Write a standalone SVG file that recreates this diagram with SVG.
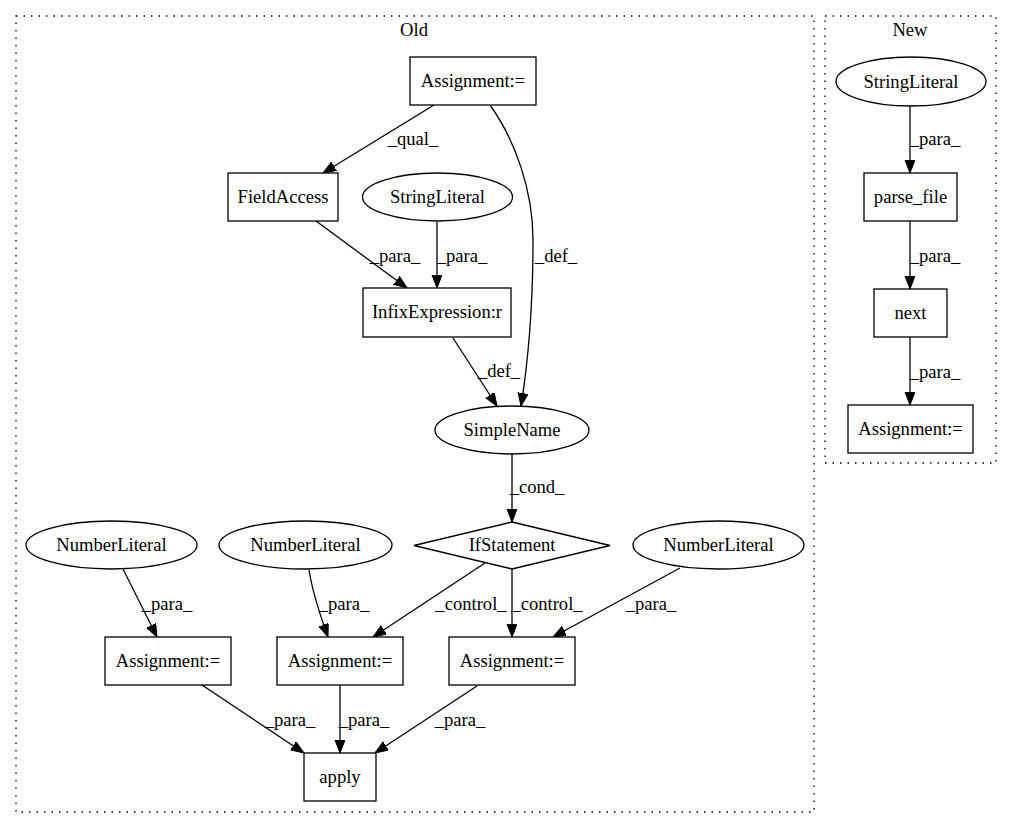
<svg xmlns="http://www.w3.org/2000/svg" width="1012" height="828" viewBox="0 0 1012 828">
<style>
text{font-family:"Liberation Serif","Times New Roman",serif;font-size:18.6px;fill:#000}
.n{text-anchor:middle}
.shape{fill:#fff;stroke:#000;stroke-width:1.3}
.cl{fill:none;stroke:#000;stroke-width:1.3;stroke-dasharray:1.5,6}
.e{fill:none;stroke:#000;stroke-width:1.3;marker-end:url(#ah)}
</style>
<defs>
<marker id="ah" markerUnits="userSpaceOnUse" markerWidth="14" markerHeight="11" refX="13" refY="5" orient="auto" viewBox="0 0 14 11">
<path d="M0,0 L13,5 L0,10 z" fill="#000" stroke="#000" stroke-width="1"/>
</marker>
</defs>
<rect width="1012" height="828" fill="#fff"/>
<g id="cluster-old">
<rect class="cl" x="16" y="16" width="798" height="796"/>
<text class="n" x="414" y="36">Old</text>
</g>
<g id="cluster-new">
<rect class="cl" x="825" y="16" width="171" height="447"/>
<text class="n" x="910" y="36">New</text>
</g>
<g id="connectors">
<path class="e" d="M434,105 L323,173"/>
<text class="n" x="413" y="145">_qual_</text>
<path class="e" d="M490,105 C515,140 533,190 533,240 C533,300 530,350 521,406"/>
<text class="n" x="556" y="262">_def_</text>
<path class="e" d="M316,221 L407,288"/>
<text class="n" x="395" y="262">_para_</text>
<path class="e" d="M437,222 L437,288"/>
<text class="n" x="462" y="262">_para_</text>
<path class="e" d="M453,338 L497,406"/>
<text class="n" x="499" y="377">_def_</text>
<path class="e" d="M512,454 L512,522"/>
<text class="n" x="537" y="493">_cond_</text>
<path class="e" d="M485,563 L373,637"/>
<text class="n" x="471" y="610">_control_</text>
<path class="e" d="M512,569 L512,637"/>
<text class="n" x="547" y="610">_control_</text>
<path class="e" d="M680,568 L553,637"/>
<text class="n" x="651" y="610">_para_</text>
<path class="e" d="M123,569 L157,637"/>
<text class="n" x="167" y="610">_para_</text>
<path class="e" d="M309,570 C313,595 320,615 328,637"/>
<text class="n" x="344" y="610">_para_</text>
<path class="e" d="M202,685 L304,753"/>
<text class="n" x="290" y="726">_para_</text>
<path class="e" d="M340,685 L340,753"/>
<text class="n" x="364" y="726">_para_</text>
<path class="e" d="M477,686 L375,753"/>
<text class="n" x="460" y="726">_para_</text>
<path class="e" d="M910,106 L910,173"/>
<text class="n" x="935" y="145">_para_</text>
<path class="e" d="M910,221 L910,289"/>
<text class="n" x="935" y="262">_para_</text>
<path class="e" d="M910,337 L910,405"/>
<text class="n" x="935" y="378">_para_</text>
</g>
<g id="old-assignment-top">
<rect class="shape" x="410" y="57" width="126" height="48"/>
<text class="n" x="473" y="87">Assignment:=</text>
</g>
<g id="old-fieldaccess">
<rect class="shape" x="228" y="173" width="110" height="48"/>
<text class="n" x="283" y="203">FieldAccess</text>
</g>
<g id="old-stringliteral">
<ellipse class="shape" cx="437.5" cy="197" rx="75" ry="24"/>
<text class="n" x="437.5" y="203">StringLiteral</text>
</g>
<g id="old-infix">
<rect class="shape" x="363" y="288" width="148" height="49"/>
<text class="n" x="437" y="318">InfixExpression:r</text>
</g>
<g id="old-simplename">
<ellipse class="shape" cx="512" cy="430" rx="77" ry="24"/>
<text class="n" x="512" y="436">SimpleName</text>
</g>
<g id="old-ifstatement">
<polygon class="shape" points="512,522 610,545.5 512,569 414,545.5"/>
<text class="n" x="512" y="551">IfStatement</text>
</g>
<g id="old-numberliteral-1">
<ellipse class="shape" cx="111.5" cy="545" rx="85.5" ry="24"/>
<text class="n" x="111.5" y="551">NumberLiteral</text>
</g>
<g id="old-numberliteral-2">
<ellipse class="shape" cx="305.5" cy="545" rx="86.5" ry="24"/>
<text class="n" x="305.5" y="551">NumberLiteral</text>
</g>
<g id="old-numberliteral-3">
<ellipse class="shape" cx="718.5" cy="545" rx="85.5" ry="24"/>
<text class="n" x="718.5" y="551">NumberLiteral</text>
</g>
<g id="old-assignment-1">
<rect class="shape" x="105" y="637" width="126" height="48"/>
<text class="n" x="168" y="667">Assignment:=</text>
</g>
<g id="old-assignment-2">
<rect class="shape" x="277" y="637" width="126" height="48"/>
<text class="n" x="340" y="667">Assignment:=</text>
</g>
<g id="old-assignment-3">
<rect class="shape" x="449" y="637" width="126" height="48"/>
<text class="n" x="512" y="667">Assignment:=</text>
</g>
<g id="old-apply">
<rect class="shape" x="304" y="753" width="72" height="48"/>
<text class="n" x="340" y="783">apply</text>
</g>
<g id="new-stringliteral">
<ellipse class="shape" cx="911" cy="81.5" rx="75" ry="24.5"/>
<text class="n" x="911" y="88">StringLiteral</text>
</g>
<g id="new-parse-file">
<rect class="shape" x="864" y="173" width="93" height="48"/>
<text class="n" x="910.5" y="203">parse_file</text>
</g>
<g id="new-next">
<rect class="shape" x="874" y="289" width="73" height="48"/>
<text class="n" x="910.5" y="319">next</text>
</g>
<g id="new-assignment">
<rect class="shape" x="848" y="405" width="125" height="48"/>
<text class="n" x="910.5" y="435">Assignment:=</text>
</g>
</svg>
